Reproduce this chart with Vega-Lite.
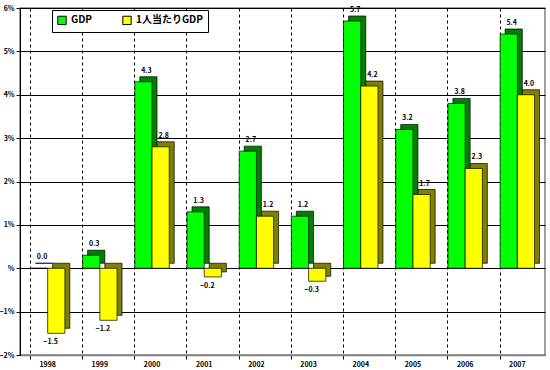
{
  "$schema": "https://vega.github.io/schema/vega-lite/v6.json",
  "autosize": {"type": "none"},
  "padding": {"left": 20, "top": 8, "right": 5, "bottom": 15},
  "width": 525,
  "height": 347,
  "background": "white",
  "config": {
    "font": "Noto Sans CJK JP",
    "view": {"stroke": "#808080", "strokeWidth": 1.5}
  },
  "data": {
    "values": [
      {"year": "1998", "series": "GDP", "value": 0.0},
      {"year": "1998", "series": "1人当たりGDP", "value": -1.5},
      {"year": "1999", "series": "GDP", "value": 0.3},
      {"year": "1999", "series": "1人当たりGDP", "value": -1.2},
      {"year": "2000", "series": "GDP", "value": 4.3},
      {"year": "2000", "series": "1人当たりGDP", "value": 2.8},
      {"year": "2001", "series": "GDP", "value": 1.3},
      {"year": "2001", "series": "1人当たりGDP", "value": -0.2},
      {"year": "2002", "series": "GDP", "value": 2.7},
      {"year": "2002", "series": "1人当たりGDP", "value": 1.2},
      {"year": "2003", "series": "GDP", "value": 1.2},
      {"year": "2003", "series": "1人当たりGDP", "value": -0.3},
      {"year": "2004", "series": "GDP", "value": 5.7},
      {"year": "2004", "series": "1人当たりGDP", "value": 4.2},
      {"year": "2005", "series": "GDP", "value": 3.2},
      {"year": "2005", "series": "1人当たりGDP", "value": 1.7},
      {"year": "2006", "series": "GDP", "value": 3.8},
      {"year": "2006", "series": "1人当たりGDP", "value": 2.3},
      {"year": "2007", "series": "GDP", "value": 5.4},
      {"year": "2007", "series": "1人当たりGDP", "value": 4.0}
    ]
  },
  "encoding": {
    "x": {
      "field": "year",
      "type": "nominal",
      "scale": {"paddingInner": 0.34, "paddingOuter": 0.2},
      "axis": {
        "title": null,
        "labelAngle": 0,
        "labelFontSize": 7,
        "labelFontWeight": "bold",
        "labelColor": "black",
        "labelPadding": 1,
        "grid": true,
        "gridDash": [3, 3],
        "gridColor": "black",
        "gridWidth": 1,
        "bandPosition": 0,
        "ticks": true,
        "tickColor": "black",
        "tickSize": 4,
        "domainColor": "#808080",
        "domainWidth": 1.5
      }
    },
    "y": {
      "field": "value",
      "type": "quantitative",
      "scale": {"domain": [-2, 6], "nice": false},
      "axis": {
        "title": null,
        "values": [-2, -1, 0, 1, 2, 3, 4, 5, 6],
        "labelExpr": "datum.value === 0 ? '%' : format(datum.value, 'd') + '%'",
        "labelFontSize": 7,
        "labelFontWeight": "bold",
        "labelColor": "black",
        "labelPadding": 2,
        "grid": true,
        "gridColor": "black",
        "gridWidth": 1,
        "gridOpacity": 1,
        "domainColor": "black",
        "tickColor": "black",
        "tickSize": 4
      }
    }
  },
  "layer": [
    {
      "mark": {"type": "bar", "yOffset": -5, "stroke": "black", "strokeWidth": 0.7},
      "encoding": {
        "xOffset": {"field": "series", "sort": ["GDP", "1人当たりGDP"], "scale": {"range": [5, 39.4]}},
        "fill": {
          "condition": {"test": "datum.series === 'GDP'", "value": "#008000"},
          "value": "#808000"
        }
      }
    },
    {
      "mark": {"type": "bar", "stroke": "black", "strokeWidth": 0.7},
      "encoding": {
        "xOffset": {"field": "series", "sort": ["GDP", "1人当たりGDP"]},
        "color": {
          "field": "series",
          "type": "nominal",
          "scale": {"domain": ["GDP", "1人当たりGDP"], "range": ["#00FF00", "#FFFF00"]},
          "legend": {
            "orient": "none",
            "legendX": 32,
            "legendY": 2,
            "direction": "horizontal",
            "title": null,
            "fillColor": "white",
            "strokeColor": "black",
            "padding": 5,
            "symbolType": "square",
            "symbolSize": 70,
            "symbolStrokeColor": "black",
            "symbolStrokeWidth": 1,
            "symbolOpacity": 1,
            "labelFontSize": 10,
            "labelFontWeight": "bold",
            "labelColor": "black",
            "labelLimit": 200,
            "columnPadding": 28
          }
        }
      }
    },
    {
      "transform": [{"filter": "datum.value >= 0"}],
      "mark": {"type": "text", "dx": 3, "dy": -11, "fontSize": 7, "fontWeight": "bold", "color": "black"},
      "encoding": {
        "xOffset": {"field": "series", "sort": ["GDP", "1人当たりGDP"]},
        "text": {"field": "value", "type": "quantitative", "format": ".1f"}
      }
    },
    {
      "transform": [{"filter": "datum.value < 0"}],
      "mark": {"type": "text", "dx": 3, "dy": 9, "fontSize": 7, "fontWeight": "bold", "color": "black"},
      "encoding": {
        "xOffset": {"field": "series", "sort": ["GDP", "1人当たりGDP"]},
        "text": {"field": "value", "type": "quantitative", "format": ".1f"}
      }
    }
  ],
  "resolve": {"scale": {"xOffset": "independent"}}
}
